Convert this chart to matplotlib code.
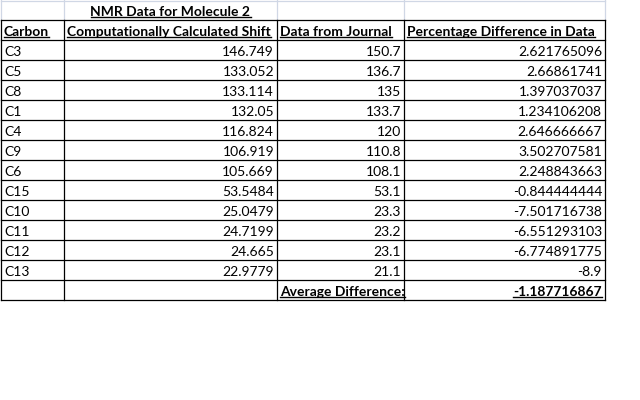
import matplotlib
matplotlib.use("Agg")
import matplotlib.pyplot as plt

# table contents
title = "NMR Data for Molecule 2"
headers = ["Carbon", "Computationally Calculated Shift", "Data from Journal", "Percentage Difference in Data"]
carbons = ["C3", "C5", "C8", "C1", "C4", "C9", "C6", "C15", "C10", "C11", "C12", "C13"]
calc_shift = [146.749, 133.052, 133.114, 132.05, 116.824, 106.919, 105.669, 53.5484, 25.0479, 24.7199, 24.665, 22.9779]
journal = [150.7, 136.7, 135, 133.7, 120, 110.8, 108.1, 53.1, 23.3, 23.2, 23.1, 21.1]
pct_diff = [2.621765096, 2.66861741, 1.397037037, 1.234106208, 2.646666667, 3.502707581,
            2.248843663, -0.844444444, -7.501716738, -6.551293103, -6.774891775, -8.9]
avg_label = "Average Difference:"
avg_value = -1.187716867

# layout in pixels
col_x = [1, 64, 277, 404, 605]
row_h = 20
top = 20
font = "Lato"
fs = 10.0

fig = plt.figure(figsize=(6.4, 4.0), dpi=100)
ax = fig.add_axes([0, 0, 1, 1])
ax.set_xlim(0, 640)
ax.set_ylim(400, 0)
ax.axis("off")

n_rows = 1 + len(carbons) + 1
bottom = top + n_rows * row_h

# light grid for title row
for x in col_x:
    ax.plot([x, x], [0, top], color="#d0d7e5", lw=0.9)
ax.plot([col_x[0], col_x[-1]], [0.5, 0.5], color="#d0d7e5", lw=0.9)

# black cell borders
for i in range(n_rows + 1):
    y = top + i * row_h
    ax.plot([col_x[0], col_x[-1]], [y, y], color="black", lw=0.9)
for x in col_x:
    ax.plot([x, x], [top, bottom], color="black", lw=0.9)

underlined = []

def cell(text, col, row, align="left", bold=False, ul=False):
    yc = top + row * row_h + row_h / 2 + 1.5
    if align == "left":
        x = col_x[col] + 3
        ha = "left"
    else:
        x = col_x[col + 1] - 3
        ha = "right"
    t = ax.text(x, yc, text, ha=ha, va="center", fontsize=fs, family=font,
                fontweight="bold" if bold else "normal", color="black")
    if ul:
        underlined.append(t)
    return t

# title, centred in the second column
t = ax.text((col_x[1] + col_x[2]) / 2, 11.5, title, ha="center", va="center",
            fontsize=fs, family=font, fontweight="bold")
underlined.append(t)

for j, h in enumerate(headers):
    cell(h, j, 0, bold=True, ul=True)

for i in range(len(carbons)):
    cell(carbons[i], 0, i + 1)
    cell(str(calc_shift[i]), 1, i + 1, align="right")
    cell(str(journal[i]), 2, i + 1, align="right")
    cell(str(pct_diff[i]), 3, i + 1, align="right")

last = len(carbons) + 1
cell(avg_label, 2, last, bold=True, ul=True)
cell(str(avg_value), 3, last, align="right", bold=True, ul=True)

# underline the text that needs it
fig.canvas.draw()
r = fig.canvas.get_renderer()
inv = ax.transData.inverted()
for t in underlined:
    bb = t.get_window_extent(renderer=r)
    (x0, y0), (x1, y1) = inv.transform([[bb.x0, bb.y0], [bb.x1, bb.y1]])
    ax.plot([x0, x1], [y0 - 1.0, y0 - 1.0], color="black", lw=1.0)

fig.savefig("out.png", dpi=100)
